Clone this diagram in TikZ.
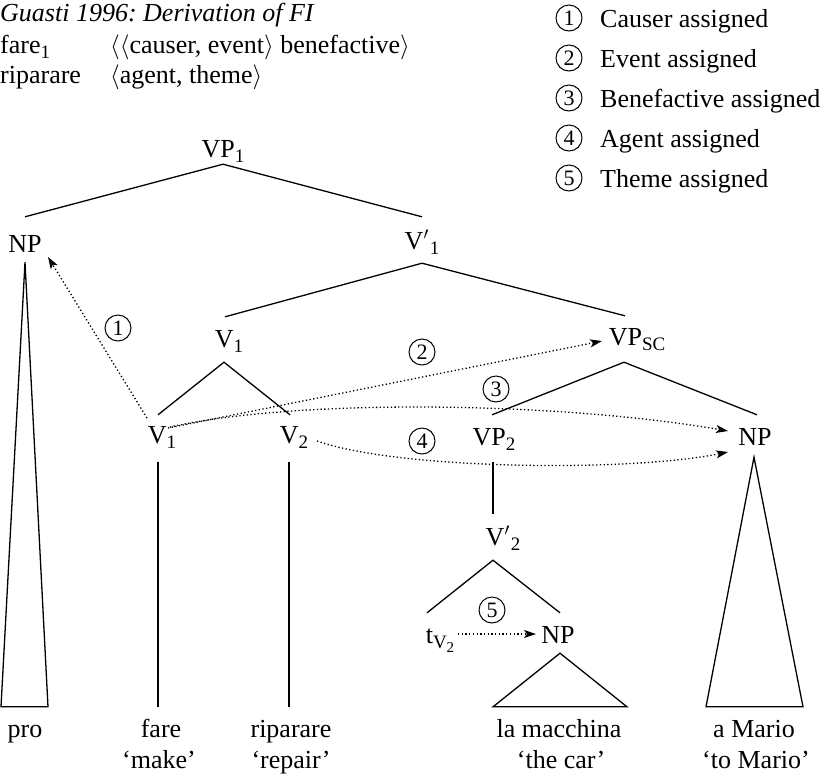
\documentclass[tikz,border=0pt]{standalone}
\usepackage{fontspec}
\setmainfont{Liberation Serif}
\usetikzlibrary{arrows.meta,calc}
\frenchspacing

% lowered index in the label font
\newcommand\idx[1]{\raisebox{-5pt}{\fontsize{19}{19}\selectfont #1}}
\newcommand\subidx[1]{\raisebox{-4pt}{\fontsize{15}{15}\selectfont #1}}

\begin{document}
\begin{tikzpicture}[x=1pt,y=-1pt,
  lab/.style={font=\fontsize{26}{30}\selectfont, inner sep=0pt, anchor=base},
  cat/.style={lab, text height=30pt, text depth=15pt},
  word/.style={lab, text height=30pt, text depth=0pt},
  edge/.style={line width=1.3pt},
  link/.style={line width=1.3pt, dash pattern=on 1.3pt off 2.4pt,
    -{Stealth[length=12pt,width=8pt,inset=3pt]}},
  num/.style={draw, circle, line width=1pt, minimum size=26pt, inner sep=0pt,
    font=\fontsize{22}{22}\selectfont},
]
\useasboundingbox (0,0) rectangle (829,777);

% heading and argument structures
\node[lab, anchor=base west, font=\fontsize{26}{30}\selectfont\itshape] (title) at (0,21) {Guasti 1996: Derivation of FI};
\node[lab, anchor=base west] (fare) at (0,53) {fare\idx{1}};
\node[lab, anchor=base west] (fareargs) at (110,53) {$\langle\langle$causer, event$\rangle$ benefactive$\rangle$};
\node[lab, anchor=base west] (rip) at (0,83) {riparare};
\node[lab, anchor=base west] (ripargs) at (110,83) {$\langle$agent, theme$\rangle$};

% key to the numbered steps
\foreach \i/\yy/\txt in {1/27/Causer assigned, 2/67/Event assigned,
    3/107/Benefactive assigned, 4/147/Agent assigned, 5/187/Theme assigned}{
  \node[num] (key\i) at (569,\yy-9) {\i};
  \node[lab, anchor=base west] (keytxt\i) at (600,\yy) {\txt};
}

% tree labels
\node[cat, text depth=7pt] (vp1) at (223,157) {VP\idx{1}};
\node[cat, text height=35pt, text depth=10pt] (npa) at (25,252) {NP};
\node[cat, text height=32pt, text depth=14pt] (vbar1) at (422,249) {V$'$\kern1pt\idx{1}};
\node[cat] (v1u) at (229,347) {V\idx{1}};
\node[cat, text height=29pt, text depth=17pt] (vpsc) at (637,345) {VP\idx{SC}};
\node[cat, text height=28pt, text depth=19pt] (v1) at (162,443) {V\idx{1}};
\node[cat, text height=28pt, text depth=19pt] (v2) at (294,443) {V\idx{2}};
\node[cat, text height=30pt, text depth=17pt] (vp2) at (494,445) {VP\idx{2}};
\node[cat, text height=30pt, text depth=12pt] (npb) at (755,445) {NP};
\node[cat, text height=31pt] (vbar2) at (503,545) {V$'$\kern1pt\idx{2}};
\node[cat] (tv) at (440,643) {t\idx{V\subidx{2}}};
\node[cat, text depth=10pt] (npc) at (558,643) {NP};

% terminal strings and glosses
\node[word] (pro) at (25,737) {pro};
\node[word] (fw) at (161,737) {fare};
\node[word] (rw) at (291,737) {riparare};
\node[word] (lm) at (559,737) {la macchina};
\node[word] (am) at (754,737) {a Mario};
\node[lab] (fg) at (159,768) {`make'};
\node[lab] (rg) at (291,768) {`repair'};
\node[lab] (lg) at (561,768) {`the car'};
\node[lab] (ag) at (756,768) {`to Mario'};

% branches
\draw[edge] (npa.north) -- (vp1.south) -- (vbar1.north);
\draw[edge] ([xshift=-4pt]v1u.north) -- (vbar1.south) -- ([xshift=-12pt]vpsc.north);
\draw[edge] ([xshift=-4pt]v1.north) -- ([xshift=-5pt]v1u.south) -- ([xshift=-4pt]v2.north);
\draw[edge] ([xshift=-2pt]vp2.north) -- ([xshift=-13pt]vpsc.south) -- ([xshift=2pt]npb.north);
\draw[edge] ([xshift=-4pt]v1.south) -- ([xshift=-3pt]fw.north);
\draw[edge] ([xshift=-5pt]v2.south) -- ([xshift=-2pt]rw.north);
\draw[edge] ([xshift=-1pt]vp2.south) -- ([xshift=-10pt]vbar2.north);
\draw[edge] ([xshift=-13pt]tv.north) -- ([xshift=-10pt]vbar2.south) -- ([xshift=2pt]npc.north);

% roofs over phrases
\draw[edge] (npa.south) -- ([xshift=-24pt]pro.north) -- ([xshift=23pt]pro.north) -- cycle;
\draw[edge] ([xshift=2pt]npc.south) -- ([xshift=-66pt]lm.north) -- ([xshift=68pt]lm.north) -- cycle;
\draw[edge] ([xshift=-1pt]npb.south) -- ([xshift=-48pt]am.north) -- ([xshift=49pt]am.north) -- cycle;

% role assignment
\draw[link] ($(v1.base)+(-15,-25)$) -- ($(npa.base)+(23,5)$);
\draw[link] ($(v1.base)+(6,-15)$) -- ($(vpsc.base)+(-35,-4)$);
\draw[link] ($(v1.base)+(8,-16)$) .. controls (300,398) and (560,402) .. ($(npb.base)+(-27,-14)$);
\draw[link] ($(v2.base)+(23,-2)$) .. controls (400,470) and (630,472) .. ($(npb.base)+(-27,7)$);
\draw[link] ($(tv.base)+(18,-9)$) -- ($(npc.base)+(-22,-9)$);

\node[num] (s1) at (118,328) {1};
\node[num] (s2) at (422,352) {2};
\node[num] (s3) at (496,389) {3};
\node[num] (s4) at (422,441) {4};
\node[num] (s5) at (492,610) {5};
\end{tikzpicture}
\end{document}
